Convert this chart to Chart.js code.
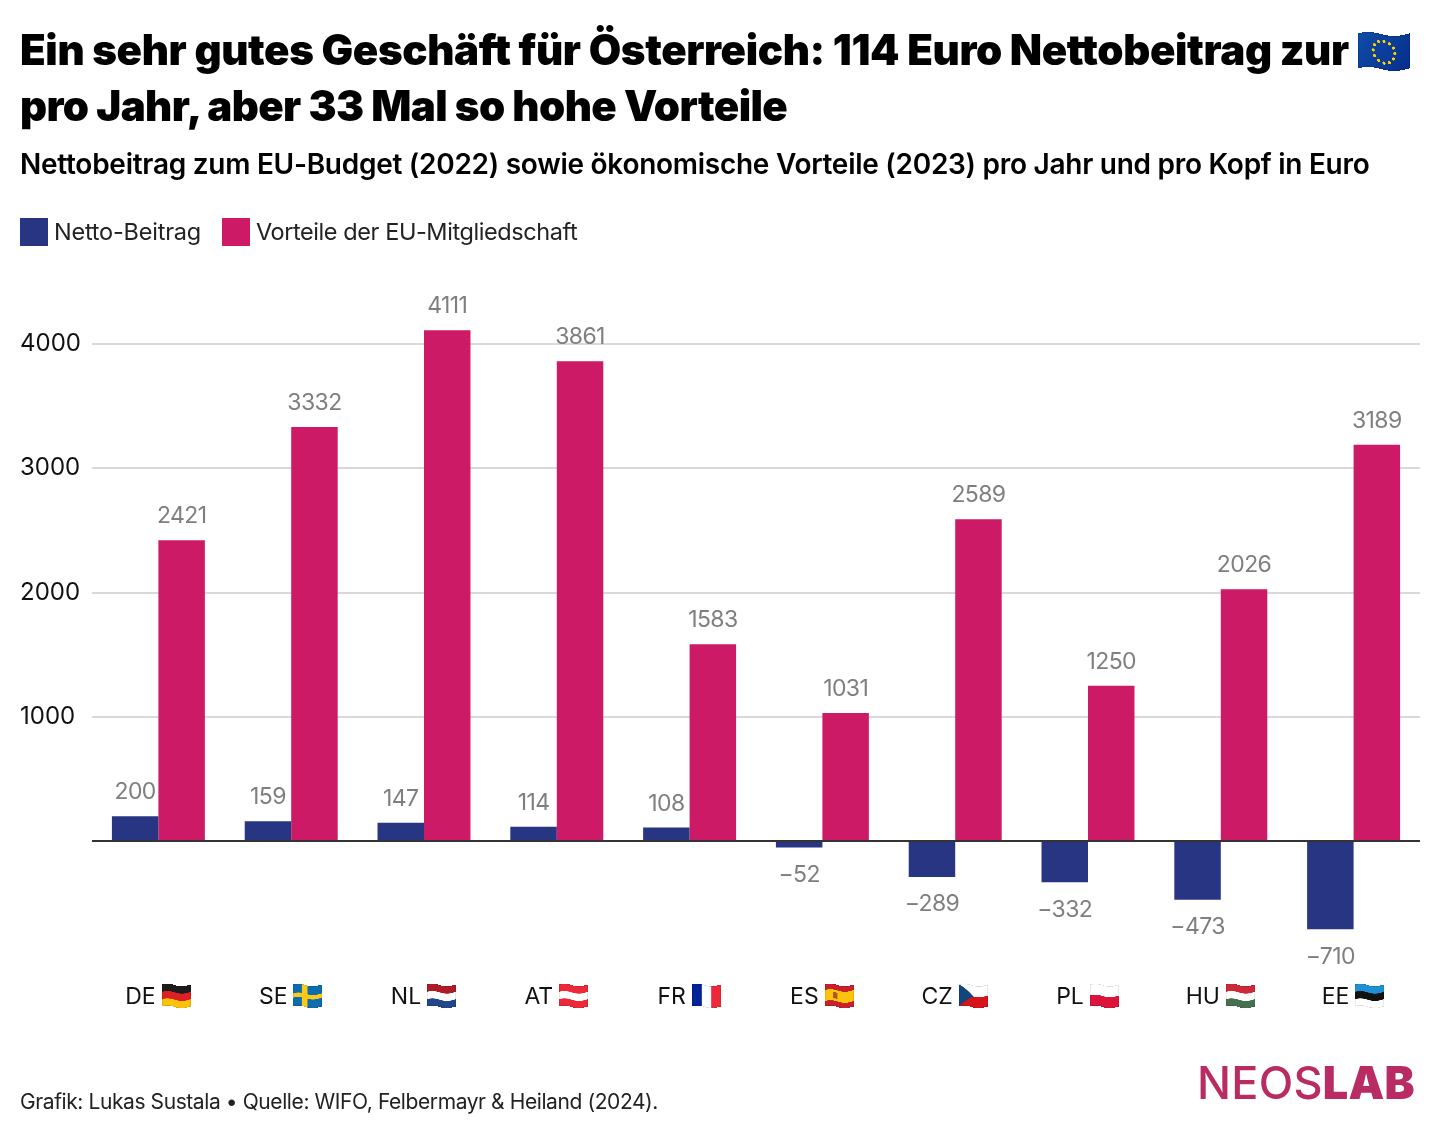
<!DOCTYPE html>
<html lang="de">
<head>
<meta charset="UTF-8">
<title>Nettobeitrag und Vorteile der EU-Mitgliedschaft</title>
<script src="https://cdn.jsdelivr.net/npm/chart.js"></script>
<style>
    html, body { margin: 0; padding: 0; background: #fff; }
    body { width: 1440px; height: 1136px; position: relative; overflow: hidden; font-family: Inter, sans-serif; color: #000; }
    #chart { position: absolute; left: 0; top: 0; }
    .abs { position: absolute; white-space: nowrap; }
    .title { left: 20px; font-size: 42px; line-height: 56px; font-weight: 900; }
    #subtitle { left: 20px; top: 146px; font-size: 28px; line-height: 36px; font-weight: 600; letter-spacing: -0.27px; }
    #legend { left: 20px; top: 218px; display: flex; font-size: 23.5px; line-height: 28px; color: #222; }
    #legend span { display: inline-block; }
    #legend .swatch { width: 28px; height: 28px; margin-right: 6px; }
    #legend .name { margin-right: 21px; letter-spacing: -0.22px; }
    #legend .name:last-child { letter-spacing: -0.42px; }
    #footer { left: 20px; top: 1088px; font-size: 21px; line-height: 28px; color: #222; letter-spacing: -0.41px; }
    #logo { left: 1197px; top: 1056px; font-size: 45px; line-height: 54px; color: #b92b63; font-weight: 500; letter-spacing: 0.25px; }
    #logo b { font-weight: 900; }
    #euflag { position: absolute; left: 1358px; top: 30px; }
</style>
</head>
<body>
<canvas id="chart" width="1440" height="1136"></canvas>
<div class="abs title" style="top:22px; letter-spacing:-0.38px">Ein sehr gutes Geschäft für Österreich: 114 Euro Nettobeitrag zur</div>
<canvas id="euflag" width="52" height="42"></canvas>
<div class="abs title" style="top:78px; letter-spacing:-0.6px">pro Jahr, aber 33 Mal so hohe Vorteile</div>
<div class="abs" id="subtitle">Nettobeitrag zum EU-Budget (2022) sowie ökonomische Vorteile (2023) pro Jahr und pro Kopf in Euro</div>
<div class="abs" id="legend"></div>
<div class="abs" id="footer">Grafik: Lukas Sustala • Quelle: WIFO, Felbermayr &amp; Heiland (2024).</div>
<div class="abs" id="logo">NEOS<b>LAB</b></div>

<script>
    const countries = ['DE', 'SE', 'NL', 'AT', 'FR', 'ES', 'CZ', 'PL', 'HU', 'EE'];
    const seriesNames = ['Netto-Beitrag', 'Vorteile der EU-Mitgliedschaft'];
    const nettoBeitrag = [200, 159, 147, 114, 108, -52, -289, -332, -473, -710];
    const vorteile = [2421, 3332, 4111, 3861, 1583, 1031, 2589, 1250, 2026, 3189];
    const yTicks = [0, 1000, 2000, 3000, 4000];

    const BLUE = '#283583';
    const PINK = '#cc1a66';

    // emoji fonts are missing, so the flags get painted by hand
    const stripes = {
        DE: ['#1c1c1c', '#dd1f26', '#fcc30b'],
        NL: ['#ae1c28', '#ffffff', '#21468b'],
        AT: ['#ed2939', '#ffffff', '#ed2939'],
        PL: ['#ffffff', '#dc143c'],
        HU: ['#ce2939', '#ffffff', '#477050'],
        EE: ['#1f8fd6', '#111111', '#ffffff']
    };

    function paintFlat(c, code, w, h) {
        if (stripes[code]) {
            stripes[code].forEach((col, i, all) => {
                c.fillStyle = col;
                c.fillRect(0, h * i / all.length, w, h / all.length + 0.5);
            });
        } else if (code === 'FR') {
            ['#002395', '#ffffff', '#ed2939'].forEach((col, i) => {
                c.fillStyle = col;
                c.fillRect(w * i / 3, 0, w / 3 + 0.5, h);
            });
        } else if (code === 'SE') {
            c.fillStyle = '#0b6cb0';
            c.fillRect(0, 0, w, h);
            c.fillStyle = '#fcc917';
            c.fillRect(w * 0.3, 0, w * 0.2, h);
            c.fillRect(0, h * 0.4, w, h * 0.2);
        } else if (code === 'ES') {
            c.fillStyle = '#c8202c';
            c.fillRect(0, 0, w, h);
            c.fillStyle = '#fcc30b';
            c.fillRect(0, h * 0.25, w, h * 0.5);
            c.fillStyle = '#b5542a';
            c.fillRect(w * 0.27, h * 0.36, w * 0.16, h * 0.28);
        } else if (code === 'CZ') {
            c.fillStyle = '#ffffff';
            c.fillRect(0, 0, w, h / 2);
            c.fillStyle = '#d7141a';
            c.fillRect(0, h / 2, w, h / 2);
            c.fillStyle = '#11457e';
            c.beginPath();
            c.moveTo(0, 0);
            c.lineTo(w * 0.5, h / 2);
            c.lineTo(0, h);
            c.fill();
        } else if (code === 'EU') {
            const grad = c.createLinearGradient(0, 0, w, h);
            grad.addColorStop(0, '#0f4da8');
            grad.addColorStop(1, '#062f8c');
            c.fillStyle = grad;
            c.fillRect(0, 0, w, h);
            c.fillStyle = '#ffcc00';
            for (let i = 0; i < 12; i++) {
                const a = i * Math.PI / 6;
                c.beginPath();
                c.arc(w / 2 + Math.cos(a) * h * 0.31, h / 2 + Math.sin(a) * h * 0.31, h * 0.045, 0, Math.PI * 2);
                c.fill();
            }
        }
        c.strokeStyle = 'rgba(0,0,0,0.14)';
        c.lineWidth = h * 0.05;
        c.strokeRect(0, 0, w, h);
    }

    // flat flag -> one pixel column at a time, shifted up/down for the little wave
    function drawFlag(ctx, code, x, y, w, h, wave) {
        const S = 4;
        const off = document.createElement('canvas');
        off.width = w * S;
        off.height = h * S;
        const c = off.getContext('2d');
        c.scale(S, S);
        paintFlat(c, code, w, h);
        const left = Math.round(x);
        for (let i = 0; i < w; i++) {
            const dy = Math.sin((i + 0.5) / w * Math.PI * 2 + 0.4) * wave;
            ctx.drawImage(off, i * S, 0, S, h * S, left + i, y - dy, 1, h);
        }
    }

    const legendEl = document.getElementById('legend');
    seriesNames.forEach((name, i) => {
        legendEl.insertAdjacentHTML('beforeend',
            '<span class="swatch" style="background:' + [BLUE, PINK][i] + '"></span><span class="name">' + name + '</span>');
    });

    drawFlag(document.getElementById('euflag').getContext('2d'), 'EU', 0, 4, 52, 35, 2);

    const valueLabels = {
        id: 'valueLabels',
        afterDatasetsDraw(chart) {
            const ctx = chart.ctx;
            const zero = chart.scales.y.getPixelForValue(0);
            ctx.save();
            ctx.fillStyle = '#333';
            ctx.fillRect(chart.chartArea.left, zero - 1, chart.chartArea.width, 2);
            ctx.font = '23px Inter';
            ctx.letterSpacing = '-0.6px';
            ctx.fillStyle = '#7f7f7f';
            ctx.textAlign = 'center';
            ctx.textBaseline = 'middle';
            chart.data.datasets.forEach((ds, d) => {
                chart.getDatasetMeta(d).data.forEach((bar, i) => {
                    const v = ds.data[i];
                    const txt = v < 0 ? '\u2212' + Math.abs(v) : String(v);
                    ctx.fillText(txt, bar.x, v < 0 ? bar.y + 27.5 : bar.y - 24);
                });
            });
            ctx.restore();
        },
        afterDraw(chart) {
            const ctx = chart.ctx;
            const x = chart.scales.x;
            ctx.save();
            ctx.font = '23px Inter';
            countries.forEach((code, i) => {
                const textW = ctx.measureText(code).width;
                const left = x.getPixelForTick(i) - (textW + 34) / 2 + textW + 5;
                drawFlag(ctx, code, left, 985, 29, 22, 1.3);
            });
            ctx.restore();
        }
    };

    new Chart(document.getElementById('chart').getContext('2d'), {
        type: 'bar',
        data: {
            labels: countries,
            datasets: [
                { label: seriesNames[0], data: nettoBeitrag, backgroundColor: BLUE },
                { label: seriesNames[1], data: vorteile, backgroundColor: PINK }
            ]
        },
        options: {
            responsive: false,
            animation: false,
            devicePixelRatio: 1,
            layout: { padding: { left: 20, right: 20, top: 306.75, bottom: 60 } },
            plugins: { legend: { display: false }, tooltip: { enabled: false } },
            datasets: { bar: { barPercentage: 1, categoryPercentage: 0.7 } },
            scales: {
                x: {
                    grid: { display: false },
                    border: { display: false },
                    afterFit(s) { s.height = 110.75; },
                    ticks: {
                        color: '#111',
                        font: { family: 'Inter', size: 23 },
                        padding: 10,
                        labelOffset: -18,
                        maxRotation: 0
                    }
                },
                y: {
                    min: -1000,
                    max: 4300,
                    afterBuildTicks(s) { s.ticks = yTicks.map(v => ({ value: v })); },
                    afterFit(s) { s.width = 72; },
                    grid: {
                        color: ctx => ctx.tick && ctx.tick.value === 0 ? 'rgba(0,0,0,0)' : '#d9d9d9',
                        lineWidth: 2,
                        drawTicks: false
                    },
                    border: { display: false },
                    ticks: {
                        color: '#111',
                        font: { family: 'Inter', size: 24 },
                        crossAlign: 'far',
                        padding: 0,
                        callback: v => v === 0 ? '' : String(v)
                    }
                }
            }
        },
        plugins: [valueLabels]
    });
</script>
</body>
</html>
